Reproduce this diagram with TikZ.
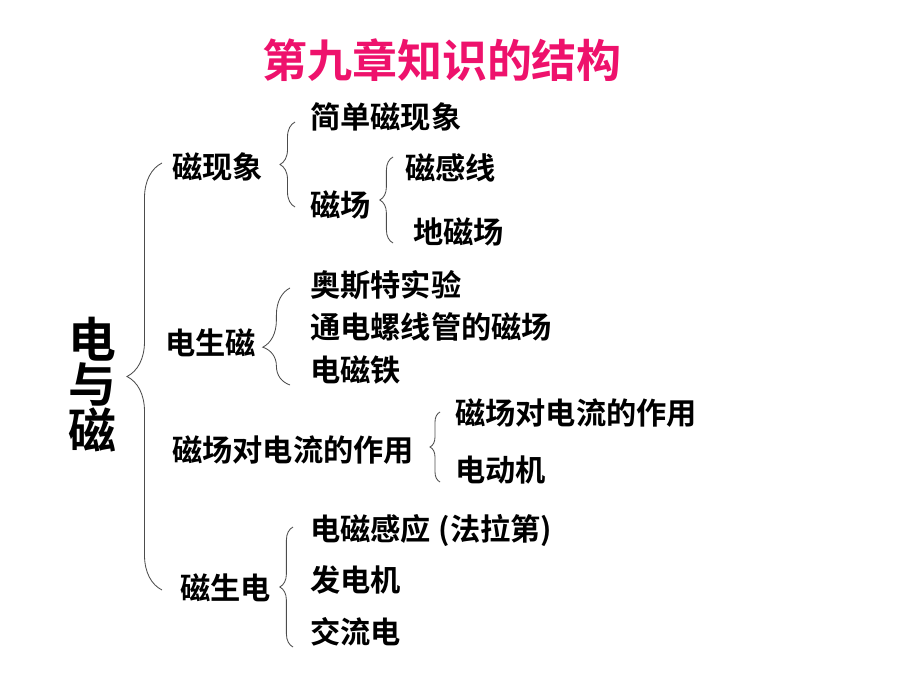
\documentclass[tikz,border=0pt]{standalone}
\usepackage{fontspec}
\usepackage{xcolor}
\setmainfont{Noto Sans CJK SC}[BoldFont={Noto Sans CJK SC Bold}]
\usepackage{tikz}
\usetikzlibrary{decorations.pathreplacing}

\definecolor{titlepink}{RGB}{238,18,108}

\begin{document}
\begin{tikzpicture}[
    x=0.025cm, y=-0.025cm,
    lbl/.style={anchor=west, inner sep=0pt, font=\bfseries\fontsize{21.5pt}{24pt}\selectfont},
    brc/.style={decorate, decoration={brace, amplitude=#1}, draw=black!70, line width=0.6pt},
    brc_off/.style={decorate, decoration={brace, amplitude=#1, aspect=0.39}, draw=black!70, line width=0.6pt}
]
    \useasboundingbox (0,0) rectangle (920,690);

    % Title
    \node (title) [font=\bfseries\fontsize{32pt}{34pt}\selectfont\color{titlepink}] at (442,60) {第九章知识的结构};

    % Root
    \node (root) [align=center, inner sep=0pt, font=\bfseries\fontsize{34pt}{30.5pt}\selectfont] at (92,385) {电\\与\\磁};
    \draw [brc=0.875cm] (162,590) -- (162,163);

    % Level 1
    \node (cxx) [lbl] at (172,167) {磁现象};
    \node (dsc) [lbl] at (165,343) {电生磁};
    \node (czd) [lbl] at (172,450) {磁场对电流的作用};
    \node (csd) [lbl] at (180,588) {磁生电};

    % 磁现象
    \draw [brc=0.375cm] (295,207) -- (295,122);
    \node (jdcxx) [lbl] at (310,117) {简单磁现象};
    \node (cc) [lbl] at (310,205) {磁场};
    \draw [brc=0.33cm] (393,243) -- (393,157);
    \node (cgx) [lbl] at (405,168) {磁感线};
    \node (dcc) [lbl] at (413,232) {地磁场};

    % 电生磁
    \draw [brc_off=0.68cm] (290,385) -- (290,288);
    \node (ostsy) [lbl] at (310,285) {奥斯特实验};
    \node (tdlxg) [lbl] at (310,327) {通电螺线管的磁场};
    \node (dct) [lbl] at (310,370) {电磁铁};

    % 磁场对电流的作用
    \draw [brc=0.25cm] (440,482) -- (440,412);
    \node (czd2) [lbl] at (455,413) {磁场对电流的作用};
    \node (ddj) [lbl] at (455,470) {电动机};

    % 磁生电
    \draw [brc=0.33cm] (293,647) -- (293,527);
    \node (dcgy) [lbl] at (310,530) {电磁感应\hspace{0.25em}(法拉第)};
    \node (fdj) [lbl] at (310,580) {发电机};
    \node (jld) [lbl] at (310,632) {交流电};
\end{tikzpicture}
\end{document}
